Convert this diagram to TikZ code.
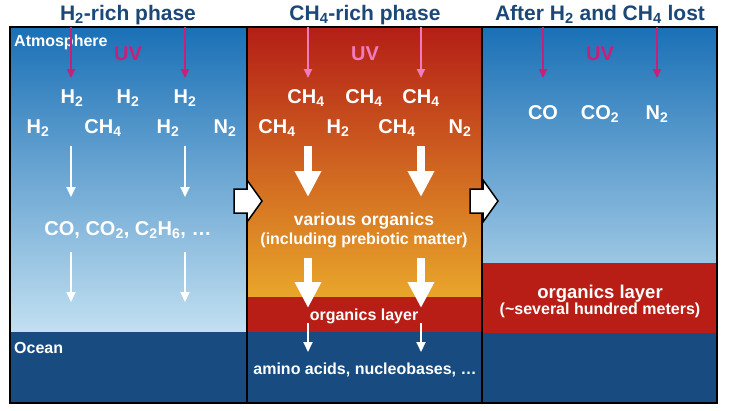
\documentclass[tikz,border=0pt]{standalone}
\usepackage{fontspec}
\setmainfont{Liberation Sans}
\usetikzlibrary{arrows.meta}
\definecolor{titleblue}{RGB}{28,72,120}
\definecolor{skytop}{RGB}{26,112,182}
\definecolor{skybottom}{RGB}{194,224,241}
\definecolor{oceanblue}{RGB}{24,76,128}
\definecolor{layerred}{RGB}{184,30,22}
\definecolor{hotred}{RGB}{180,30,22}
\definecolor{hotmid}{RGB}{214,90,30}
\definecolor{hotyellow}{RGB}{233,166,42}
\definecolor{uvmagenta}{RGB}{200,32,122}
\definecolor{uvpink}{RGB}{240,124,190}
\newcommand{\low}[1]{\textsubscript{#1}}
\begin{document}
\begin{tikzpicture}[x=1pt, y=-1pt,
    phase/.style={text=titleblue, anchor=base, inner sep=0pt, font=\fontsize{21}{24}\selectfont\bfseries},
    mol/.style={text=white, anchor=base, inner sep=0pt, font=\fontsize{20}{22}\selectfont\bfseries},
    note/.style={text=white, anchor=base, inner sep=0pt, font=\fontsize{16}{18}\selectfont\bfseries},
    uvtext/.style={anchor=base, inner sep=0pt, font=\fontsize{20}{22}\selectfont\bfseries},
    uvarrow/.style={draw=uvmagenta, line width=2pt, -{Triangle[width=8pt,length=9pt]}},
    thinarrow/.style={draw=white, line width=2pt, -{Triangle[width=9pt,length=10pt]}},
    bigarrow/.style={draw=white, line width=8pt, -{Triangle[width=25pt,length=26pt]}},
    shiftarrow/.style={fill=white, draw=black, line width=1.5pt, line join=miter}]
  \useasboundingbox[fill=white] (0,0) rectangle (730,410);

  % layers
  \shade[top color=skytop, bottom color=skybottom] (10,27) rectangle (247,332);
  \fill[oceanblue] (10,332) rectangle (247,403);
  \shade[top color=hotred, middle color=hotmid, bottom color=hotyellow] (247,27) rectangle (482,297);
  \fill[layerred] (247,297) rectangle (482,332);
  \fill[oceanblue] (247,332) rectangle (482,403);
  \shade[top color=skytop, bottom color=skybottom] (482,27) rectangle (717,332);
  \fill[layerred] (482,263) rectangle (717,333);
  \fill[oceanblue] (482,333) rectangle (717,403);
  \draw[line width=1.2pt] (10,27) rectangle (247,403) (247,27) rectangle (482,403) (482,27) rectangle (717,403);

  % titles
  \node[phase] (ttl1) at (128,20) {H\low{2}-rich phase};
  \node[phase] (ttl2) at (365,20) {CH\low{4}-rich phase};
  \node[phase] (ttl3) at (600,20) {After H\low{2} and CH\low{4} lost};

  \node[note, anchor=base west] (atmo) at (14,46) {Atmosphere};
  \node[note, anchor=base west] (ocean) at (14,353) {Ocean};

  % UV
  \node[uvtext, text=uvmagenta] (uv1) at (128,60) {UV};
  \node[uvtext, text=uvpink] (uv2) at (365,60) {UV};
  \node[uvtext, text=uvmagenta] (uv3) at (600,60) {UV};
  \foreach \ux in {71,185,543,657}
    \draw[uvarrow] (\ux,27) -- (\ux,78);
  \foreach \ux in {308,421}
    \draw[uvarrow, draw=uvpink] (\ux,27) -- (\ux,78);

  % H2-rich phase
  \node[mol] (a1) at (72,103) {H\low{2}};
  \node[mol] (a2) at (128,103) {H\low{2}};
  \node[mol] (a3) at (185,103) {H\low{2}};
  \node[mol] (b1) at (38,133) {H\low{2}};
  \node[mol] (b2) at (103,133) {CH\low{4}};
  \node[mol] (b3) at (168,133) {H\low{2}};
  \node[mol] (b4) at (225,133) {N\low{2}};
  \node[mol] (prod1) at (128,235) {CO, CO\low{2}, C\low{2}H\low{6}, \dots};
  \foreach \ux in {71,185} {
    \draw[thinarrow] (\ux,146) -- (\ux,197);
    \draw[thinarrow] (\ux,252) -- (\ux,302);
  }

  % CH4-rich phase
  \node[mol] (c1) at (306,103) {CH\low{4}};
  \node[mol] (c2) at (364,103) {CH\low{4}};
  \node[mol] (c3) at (421,103) {CH\low{4}};
  \node[mol] (d1) at (277,133) {CH\low{4}};
  \node[mol] (d2) at (338,133) {H\low{2}};
  \node[mol] (d3) at (397,133) {CH\low{4}};
  \node[mol] (d4) at (460,133) {N\low{2}};
  \node[note, font=\fontsize{17.5}{20}\selectfont\bfseries] (org1) at (364,225) {various organics};
  \node[note] (org2) at (364,244) {(including prebiotic matter)};
  \node[note] (lay2) at (364,320) {organics layer};
  \node[note] (amino) at (365,374) {amino acids, nucleobases, \dots};
  \foreach \ux in {308,421} {
    \draw[bigarrow] (\ux,146) -- (\ux,197);
    \draw[bigarrow] (\ux,258) -- (\ux,308);
    \draw[thinarrow] (\ux,323) -- (\ux,352);
  }

  % after H2 and CH4 lost
  \node[mol] (e1) at (543,119) {CO};
  \node[mol] (e2) at (600,119) {CO\low{2}};
  \node[mol] (e3) at (657,119) {N\low{2}};
  \node[note, font=\fontsize{18.5}{20}\selectfont\bfseries] (lay3) at (600,298) {organics layer};
  \node[note] (lay3b) at (600,314) {(\textasciitilde several hundred meters)};

  % phase changes
  \foreach \bx in {234,470}
    \draw[shiftarrow] (\bx,189) -- ++(13,0) -- ++(0,-9) -- ++(15,21) -- ++(-15,21) -- ++(0,-9) -- ++(-13,0) -- cycle;
\end{tikzpicture}
\end{document}
